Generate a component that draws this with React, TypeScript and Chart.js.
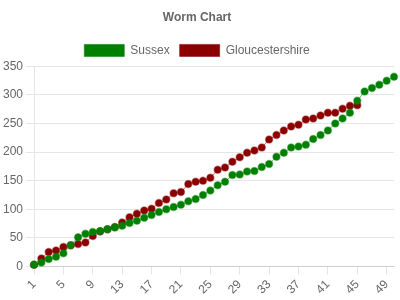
import React, { useEffect, useRef } from "react";
import { Chart, registerables } from "chart.js";

Chart.register(...registerables);

const overs: string[] = Array.from({ length: 50 }, (_, i) => String(i + 1));

const sussex: number[] = [
  3, 7, 13, 17, 23, 37, 51, 57, 60, 62,
  65, 68, 71, 76, 80, 85, 90, 95, 100, 104,
  108, 114, 118, 125, 133, 142, 148, 160, 161, 166,
  167, 174, 179, 192, 199, 208, 210, 213, 223, 230,
  238, 250, 259, 269, 290, 306, 312, 318, 325, 332,
];

const gloucestershire: number[] = [
  3, 14, 25, 28, 34, 37, 39, 42, 53, 61,
  65, 69, 77, 86, 92, 98, 101, 111, 117, 128,
  130, 144, 148, 150, 155, 169, 173, 183, 191, 199,
  203, 208, 222, 230, 238, 245, 248, 257, 259, 264,
  269, 269, 276, 281, 282,
];

const FONT = "'Liberation Sans', Arial, Helvetica, sans-serif";

export default function App() {
  const ref = useRef<HTMLCanvasElement | null>(null);

  useEffect(() => {
    document.body.style.margin = "0";
    const canvas = ref.current;
    if (!canvas) return;
    const chart = new Chart(canvas, {
      type: "line",
      data: {
        labels: overs,
        datasets: [
          {
            label: "Sussex",
            data: sussex,
            backgroundColor: "#008000",
            borderColor: "rgba(0,128,0,0.55)",
            borderWidth: 1,
            pointRadius: 3.5,
            pointBorderWidth: 1.5,
            pointBackgroundColor: "#008000",
            pointBorderColor: "rgba(0,128,0,0.45)",
            fill: false,
            tension: 0,
          },
          {
            label: "Gloucestershire",
            data: gloucestershire,
            backgroundColor: "#8B0000",
            borderColor: "rgba(139,0,0,0.55)",
            borderWidth: 1,
            pointRadius: 3.5,
            pointBorderWidth: 1.5,
            pointBackgroundColor: "#8B0000",
            pointBorderColor: "rgba(139,0,0,0.45)",
            fill: false,
            tension: 0,
          },
        ],
      },
      options: {
        responsive: false,
        animation: false,
        devicePixelRatio: 1,
        layout: { padding: { left: 0, right: 6, top: 0, bottom: 0 } },
        plugins: {
          title: {
            display: true,
            text: "Worm Chart",
            color: "#666",
            font: { family: FONT, size: 12, weight: "bold" },
            padding: 10,
          },
          legend: {
            display: true,
            labels: {
              color: "#666",
              font: { family: FONT, size: 12 },
              boxWidth: 40,
              boxHeight: 12,
              padding: 10,
            },
          },
          tooltip: { enabled: false },
        },
        scales: {
          x: {
            grid: {
              display: true,
              drawOnChartArea: false,
              drawTicks: true,
              tickLength: 8,
              color: "rgba(0,0,0,0.1)",
            },
            border: { display: true, color: "rgba(0,0,0,0.1)" },
            ticks: {
              color: "#666",
              font: { family: FONT, size: 12 },
              autoSkip: false,
              minRotation: 45,
              maxRotation: 45,
              callback: function (_v: any, index: number) {
                return index % 4 === 0 ? overs[index] : null;
              },
            },
          },
          y: {
            beginAtZero: true,
            max: 350,
            grid: {
              color: "rgba(0,0,0,0.1)",
              tickLength: 8,
            },
            border: { display: true, color: "rgba(0,0,0,0.1)" },
            ticks: {
              color: "#666",
              font: { family: FONT, size: 12 },
              stepSize: 50,
            },
          },
        },
      },
    });
    return () => chart.destroy();
  }, []);

  return <canvas ref={ref} width={400} height={300} style={{ display: "block" }} />;
}
